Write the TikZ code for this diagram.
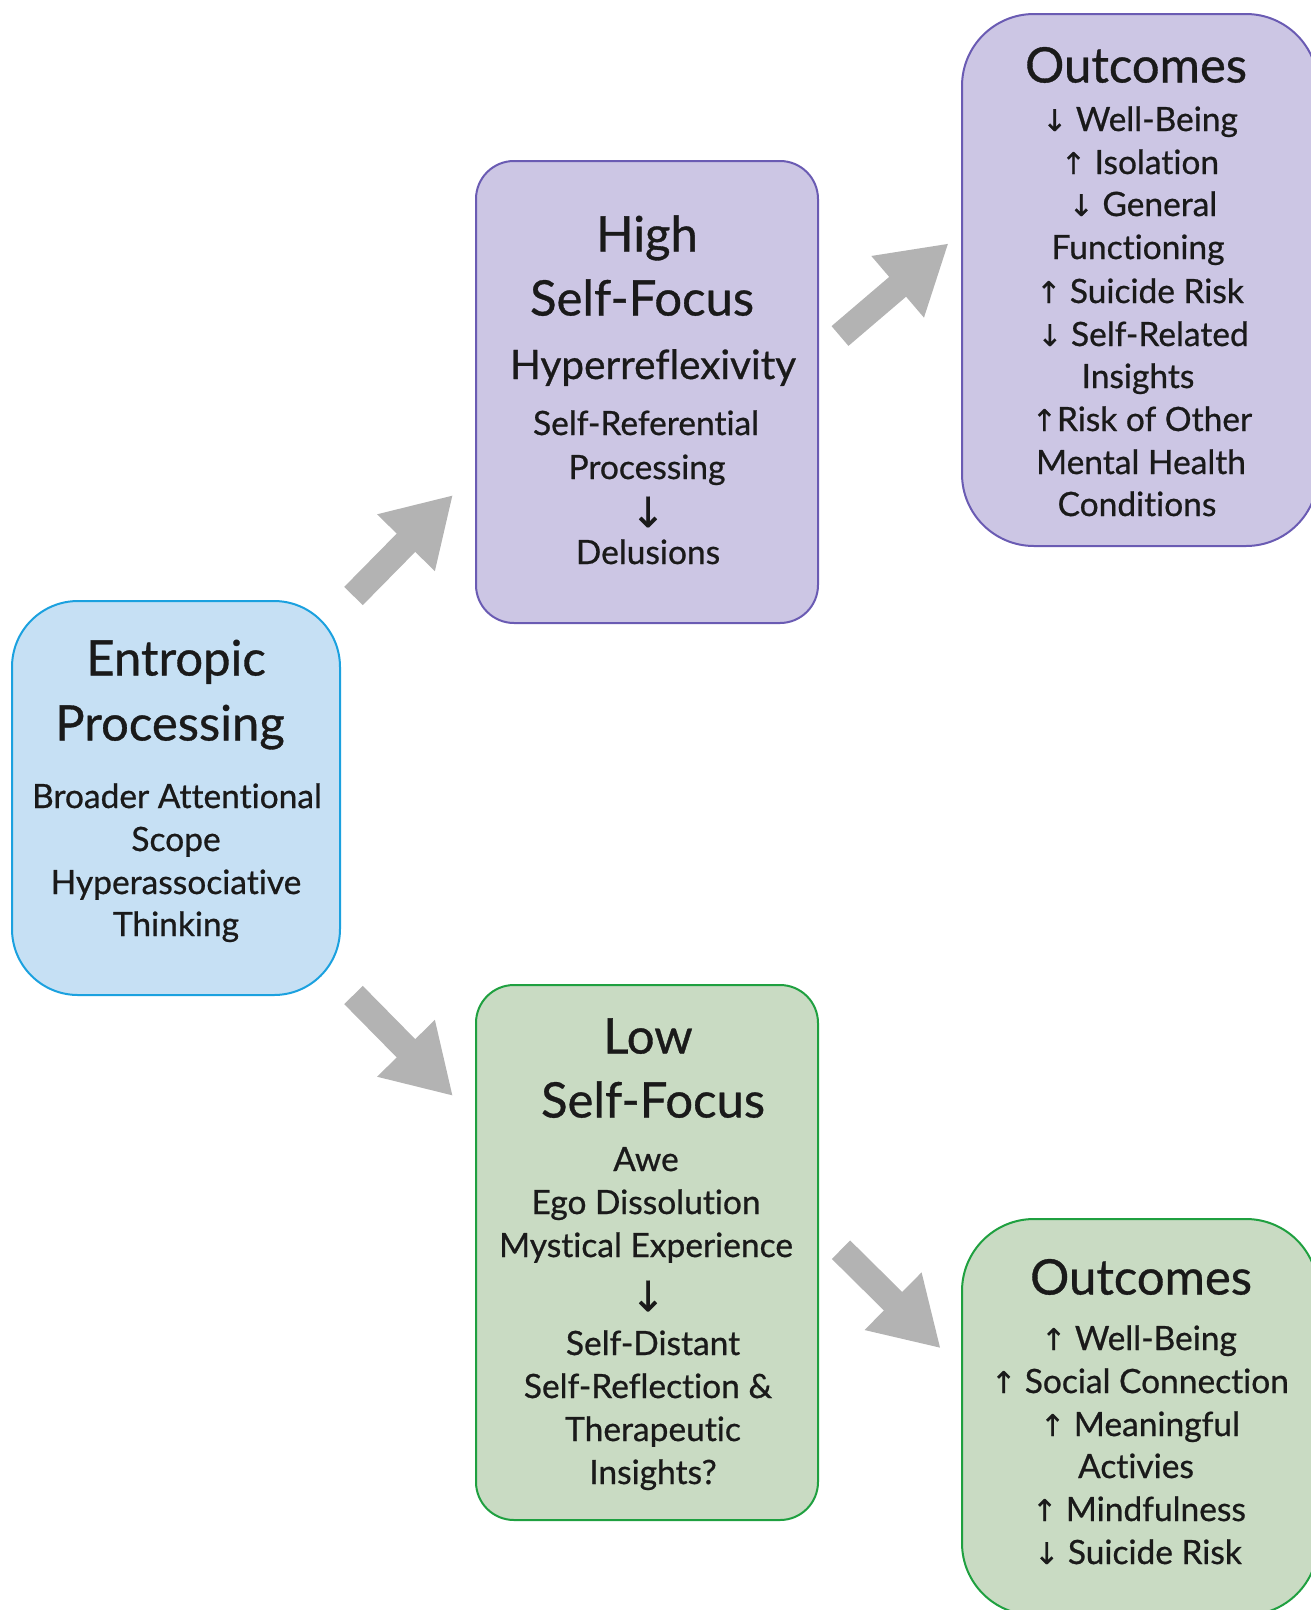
\documentclass[tikz,border=0pt]{standalone}
\usepackage{fontspec}
\setmainfont{Lato}[FakeBold=0.7,Ligatures={NoCommon}]
\newfontfamily\arrfont{DejaVu Sans}[FakeBold=0.5]
\usetikzlibrary{arrows.meta}
\definecolor{entfill}{HTML}{C6E0F4}
\definecolor{entline}{HTML}{1BA1DF}
\definecolor{purfill}{HTML}{CCC6E4}
\definecolor{purline}{HTML}{6A5BB3}
\definecolor{grnfill}{HTML}{C9DBC3}
\definecolor{grnline}{HTML}{1FA040}
\definecolor{arrgray}{HTML}{B3B3B3}
\definecolor{txt}{HTML}{1A1A1A}
\newcommand\mydn{{\arrfont\fontsize{30}{30}\selectfont ↓}}
\newcommand\myup{{\arrfont\fontsize{30}{30}\selectfont ↑}}
\begin{document}
\begin{tikzpicture}[x=1pt,y=-1pt,
  box/.style={draw, line width=2pt, inner sep=0pt},
  ttl/.style={anchor=base, inner sep=0pt, text=txt, font=\fontsize{49}{49}\selectfont},
  med/.style={anchor=base, inner sep=0pt, text=txt, font=\fontsize{40.5}{40.5}\selectfont},
  bod/.style={anchor=base, inner sep=0pt, text=txt, font=\fontsize{33.5}{33.5}\selectfont},
  bigdn/.style={anchor=center, inner sep=0pt, text=txt, font=\arrfont\fontsize{42}{42}\selectfont},
  blockarrow/.style={draw=arrgray, line width=26pt, -{Triangle[length=67pt,width=76pt]}}]
\useasboundingbox (0,0) rectangle (1311,1610);
\clip (0,0) rectangle (1311,1610);

% boxes
\node[box, draw=entline, fill=entfill, rounded corners=66pt, minimum width=328pt, minimum height=394pt] (ent) at (176,798) {};
\node[box, draw=purline, fill=purfill, rounded corners=38pt, minimum width=342pt, minimum height=462pt] (high) at (647,392) {};
\node[box, draw=purline, fill=purfill, rounded corners=72pt, minimum width=356pt, minimum height=532pt] (outT) at (1140,280) {};
\node[box, draw=grnline, fill=grnfill, rounded corners=38pt, minimum width=342pt, minimum height=535pt] (low) at (647,1252.5) {};
\node[box, draw=grnline, fill=grnfill, rounded corners=72pt, minimum width=356pt, minimum height=396pt] (outB) at (1140,1417) {};

% entropic text
\node[ttl] (e1) at (176,675.5) {Entropic};
\node[ttl] (e2) at (170,740.5) {Processing};
\node[bod] (e3) at (177,808) {Broader Attentional};
\node[bod] (e4) at (176,851) {Scope};
\node[bod] (e5) at (176,894) {Hyperassociative};
\node[bod] (e6) at (176,936) {Thinking};

% high self-focus text
\node[ttl] (h1) at (647,251.5) {High};
\node[ttl] (h2) at (642,315.5) {Self-Focus};
\node[med] (h3) at (653,379) {Hyperreflexivity};
\node[bod] (h4) at (646,435) {Self-Referential};
\node[bod] (h5) at (647,479) {Processing};
\node[bigdn] (h6) at (648,512) {↓};
\node[bod] (h7) at (648,564) {Delusions};

% top outcomes
\node[ttl] (t1) at (1136,82.5) {Outcomes};
\node[bod] (t2) at (1140,131) {\mydn{} Well-Being};
\node[bod] (t3) at (1140,174) {\myup{} Isolation};
\node[bod] (t4) at (1143,216) {\mydn{} General};
\node[bod] (t5) at (1138,259) {Functioning};
\node[bod] (t6) at (1140,303) {\myup{} Suicide Risk};
\node[bod] (t7) at (1143,346) {\mydn{} Self-Related};
\node[bod] (t8) at (1138,388) {Insights};
\node[bod] (t9) at (1142,431) {\myup{}Risk of Other};
\node[bod] (t10) at (1141,474) {Mental Health};
\node[bod] (t11) at (1137,516) {Conditions};

% low self-focus text
\node[ttl] (l1) at (648,1053.5) {Low};
\node[ttl] (l2) at (653,1117.5) {Self-Focus};
\node[bod] (l3) at (646,1171) {Awe};
\node[bod] (l4) at (646,1214) {Ego Dissolution};
\node[bod] (l5) at (646,1257) {Mystical Experience};
\node[bigdn] (l6) at (648,1296) {↓};
\node[bod] (l7) at (653,1355) {Self-Distant};
\node[bod] (l8) at (648,1398) {Self-Reflection \&};
\node[bod] (l9) at (653,1441) {Therapeutic};
\node[bod] (l10) at (653,1484) {Insights?};

% bottom outcomes
\node[ttl] (b1) at (1141,1294.5) {Outcomes};
\node[bod] (b2) at (1139,1350) {\myup{} Well-Being};
\node[bod] (b3) at (1140,1393) {\myup{} Social Connection};
\node[bod] (b4) at (1140,1436) {\myup{} Meaningful};
\node[bod] (b5) at (1136,1478) {Activies};
\node[bod] (b6) at (1139,1521) {\myup{} Mindfulness};
\node[bod] (b7) at (1138,1564) {\mydn{} Suicide Risk};

% block arrows
\coordinate (a1s) at (353.5,596);
\coordinate (a1e) at (453,495);
\coordinate (a2s) at (840,336);
\coordinate (a2e) at (948.6,243.3);
\coordinate (a3s) at (353.5,995);
\coordinate (a3e) at (453,1096);
\coordinate (a4s) at (841,1249.7);
\coordinate (a4e) at (940.7,1348.3);
\draw[blockarrow] (a1s) -- (a1e);
\draw[blockarrow] (a2s) -- (a2e);
\draw[blockarrow] (a3s) -- (a3e);
\draw[blockarrow] (a4s) -- (a4e);
\end{tikzpicture}
\end{document}
